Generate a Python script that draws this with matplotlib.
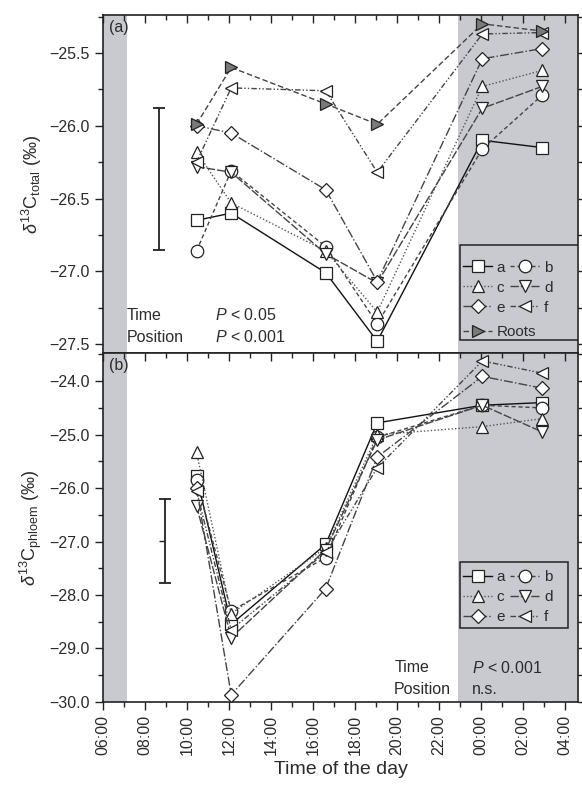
import matplotlib
matplotlib.use("Agg")
import matplotlib.pyplot as plt
from matplotlib.ticker import MultipleLocator, FuncFormatter
from matplotlib.patches import Rectangle

plt.rcParams['font.family'] = ['Liberation Sans', 'DejaVu Sans']
plt.rcParams['mathtext.fontset'] = 'custom'
plt.rcParams['mathtext.rm'] = 'Liberation Sans'
plt.rcParams['mathtext.it'] = 'Liberation Sans:italic'
plt.rcParams['font.size'] = 11.5

# sampling times (hours since midnight, >24 = next day)
times = [10.45, 12.1, 16.6, 19.05, 24.05, 26.9]

# panel (a): d13C total
tot_a = [-26.65, -26.60, -27.01, -27.48, -26.10, -26.15]
tot_b = [-26.86, -26.31, -26.83, -27.36, -26.16, -25.79]
tot_c = [-26.18, -26.53, -26.86, -27.28, -25.73, -25.62]
tot_d = [-26.28, -26.32, -26.88, -27.08, -25.88, -25.73]
tot_e = [-26.00, -26.05, -26.44, -27.07, -25.54, -25.47]
tot_f = [-26.25, -25.74, -25.76, -26.32, -25.37, -25.36]
tot_roots = [-25.99, -25.60, -25.85, -25.99, -25.30, -25.35]

# panel (b): d13C phloem
phl_a = [-25.78, -28.55, -27.05, -24.78, -24.45, -24.40]
phl_b = [-25.85, -28.30, -27.30, -25.05, -24.45, -24.50]
phl_c = [-25.33, -28.35, -27.12, -25.00, -24.85, -24.70]
phl_d = [-26.33, -28.80, -27.15, -25.10, -24.45, -24.95]
phl_e = [-26.00, -29.87, -27.88, -25.42, -23.91, -24.13]
phl_f = [-26.05, -28.65, -27.20, -25.62, -23.62, -23.85]

# error bars (x, centre, half length)
err_a = (8.66, -26.365, 0.485)
err_b = (8.94, -26.985, 0.785)

# night shading (hours)
night1 = (6.0, 7.13)
night2 = (22.9, 28.6)

xticks = list(range(6, 29, 2))
xticklabels = ["%02d:00" % (h % 24) for h in xticks]

grey = '#c9cacf'
txt = '#2b2b2b'

styles = {
    'a': dict(marker='s', ls='-', color='#111111', ms=8.5),
    'b': dict(marker='o', ls=(0, (3, 2)), color='#444444', ms=9),
    'c': dict(marker='^', ls=(0, (1, 1.5)), color='#555555', ms=9),
    'd': dict(marker='v', ls=(0, (6, 1.5)), color='#444444', ms=9),
    'e': dict(marker='D', ls='-.', color='#444444', ms=7.5),
    'f': dict(marker='<', ls=(0, (4, 1.5, 1, 1.5, 1, 1.5)), color='#444444', ms=9),
    'Roots': dict(marker='>', ls=(0, (4, 2)), color='#444444', ms=9),
}

fig = plt.figure(figsize=(5.82, 7.93), dpi=100)
ax1 = fig.add_axes([0.177, 0.555, 0.816, 0.426])
ax2 = fig.add_axes([0.177, 0.115, 0.816, 0.440])


def draw(ax, series):
    handles = {}
    for name, vals in series:
        st = styles[name]
        fc = '#7a7a7a' if name == 'Roots' else 'white'
        h, = ax.plot(times, vals, linestyle=st['ls'], color=st['color'], lw=1.0,
                     marker=st['marker'], ms=st['ms'], mfc=fc, mec='#222222',
                     mew=0.9, label=name, zorder=3)
        handles[name] = h
    return handles


def leg(ax, hs, names, **kw):
    lg = ax.legend(hs, names, borderaxespad=0, fontsize=11, handlelength=1.9,
                   handletextpad=0.3, columnspacing=0.35, labelspacing=0.4,
                   borderpad=0.0, frameon=False, labelcolor=txt, **kw)
    return lg


minus = FuncFormatter(lambda v, p: ('%.1f' % v).replace('-', '\u2212'))

for ax in (ax1, ax2):
    ax.axvspan(*night1, color=grey, lw=0, zorder=0)
    ax.axvspan(*night2, color=grey, lw=0, zorder=0)
    ax.set_xlim(6, 28.6)
    ax.set_xticks(xticks)
    ax.xaxis.set_minor_locator(MultipleLocator(1))
    ax.yaxis.set_major_formatter(minus)
    for sp in ax.spines.values():
        sp.set_linewidth(1.2)
        sp.set_color('#222222')
    ax.tick_params(axis='y', which='both', left=True, right=True, direction='out',
                   colors='#222222', labelcolor=txt, width=1.0)
    ax.tick_params(axis='y', which='major', length=6)
    ax.tick_params(axis='y', which='minor', length=3.5)
    ax.tick_params(axis='x', which='major', length=6, width=1.0, colors='#222222', labelcolor=txt)
    ax.tick_params(axis='x', which='minor', length=3.5, width=1.0, colors='#222222')

ax1.tick_params(axis='x', which='both', top=True, bottom=False, direction='in', labelbottom=False)
ax2.tick_params(axis='x', which='both', top=True, bottom=True, direction='out')
# top ticks of the lower panel point inwards
for t in ax2.xaxis.get_major_ticks() + ax2.xaxis.get_minor_ticks():
    t.tick2line.set_marker(3)
ax2.set_xticklabels(xticklabels, rotation=90)

# panel (a)
h1 = draw(ax1, [('a', tot_a), ('b', tot_b), ('c', tot_c), ('d', tot_d),
                ('e', tot_e), ('f', tot_f), ('Roots', tot_roots)])
ax1.set_ylim(-27.56, -25.24)
ax1.yaxis.set_major_locator(MultipleLocator(0.5))
ax1.yaxis.set_minor_locator(MultipleLocator(0.25))
ax1.errorbar([err_a[0]], [err_a[1]], yerr=[err_a[2]], color='#222222', lw=1.3,
             capsize=4.5, capthick=1.3, fmt='none')
ax1.text(0.012, 0.985, '(a)', transform=ax1.transAxes, ha='left', va='top', color=txt)
ax1.text(0.05, 0.112, 'Time', transform=ax1.transAxes, va='center', color=txt)
ax1.text(0.05, 0.047, 'Position', transform=ax1.transAxes, va='center', color=txt)
ax1.text(0.236, 0.112, r'$P$ < 0.05', transform=ax1.transAxes, va='center', color=txt)
ax1.text(0.236, 0.047, r'$P$ < 0.001', transform=ax1.transAxes, va='center', color=txt)
ax1.set_ylabel(r'$\delta^{13}$C$_{\mathrm{total}}$ (‰)', fontsize=13, color=txt)

ax1.add_patch(Rectangle((0.752, 0.038), 0.248, 0.282, transform=ax1.transAxes,
                        facecolor=grey, edgecolor='#222222', lw=1.1, zorder=4))
order1 = ['a', 'c', 'e', 'b', 'd', 'f']
lg1 = leg(ax1, [h1[k] for k in order1], order1, ncol=2, loc='center left',
          bbox_to_anchor=(0.758, 0.193))
lg1.set_zorder(5)
ax1.add_artist(lg1)
lg1b = leg(ax1, [h1['Roots']], ['Roots'], loc='center left',
           bbox_to_anchor=(0.758, 0.062))
lg1b.set_zorder(5)

# panel (b)
h2 = draw(ax2, [('a', phl_a), ('b', phl_b), ('c', phl_c), ('d', phl_d),
                ('e', phl_e), ('f', phl_f)])
ax2.set_ylim(-30.0, -23.47)
ax2.yaxis.set_major_locator(MultipleLocator(1.0))
ax2.yaxis.set_minor_locator(MultipleLocator(0.5))
ax2.errorbar([err_b[0]], [err_b[1]], yerr=[err_b[2]], color='#222222', lw=1.3,
             capsize=4.5, capthick=1.3, fmt='none')
ax2.plot([err_b[0]], [err_b[1]], marker=0, ms=4, color='#222222', mew=1.0)
ax2.text(0.012, 0.985, '(b)', transform=ax2.transAxes, ha='left', va='top', color=txt)
ax2.text(0.613, 0.097, 'Time', transform=ax2.transAxes, va='center', color=txt)
ax2.text(0.613, 0.034, 'Position', transform=ax2.transAxes, va='center', color=txt)
ax2.text(0.777, 0.097, r'$P$ < 0.001', transform=ax2.transAxes, va='center', color=txt)
ax2.text(0.777, 0.034, 'n.s.', transform=ax2.transAxes, va='center', color=txt)
ax2.set_ylabel(r'$\delta^{13}$C$_{\mathrm{phloem}}$ (‰)', fontsize=13, color=txt)
ax2.set_xlabel('Time of the day', fontsize=14, color=txt)

ax2.add_patch(Rectangle((0.752, 0.212), 0.227, 0.189, transform=ax2.transAxes,
                        facecolor=grey, edgecolor='#222222', lw=1.1, zorder=4))
order2 = ['a', 'c', 'e', 'b', 'd', 'f']
lg2 = leg(ax2, [h2[k] for k in order2], order2, ncol=2, loc='center left',
          bbox_to_anchor=(0.758, 0.300))
lg2.set_zorder(5)

fig.align_ylabels([ax1, ax2])
fig.savefig('out.png', dpi=100)
